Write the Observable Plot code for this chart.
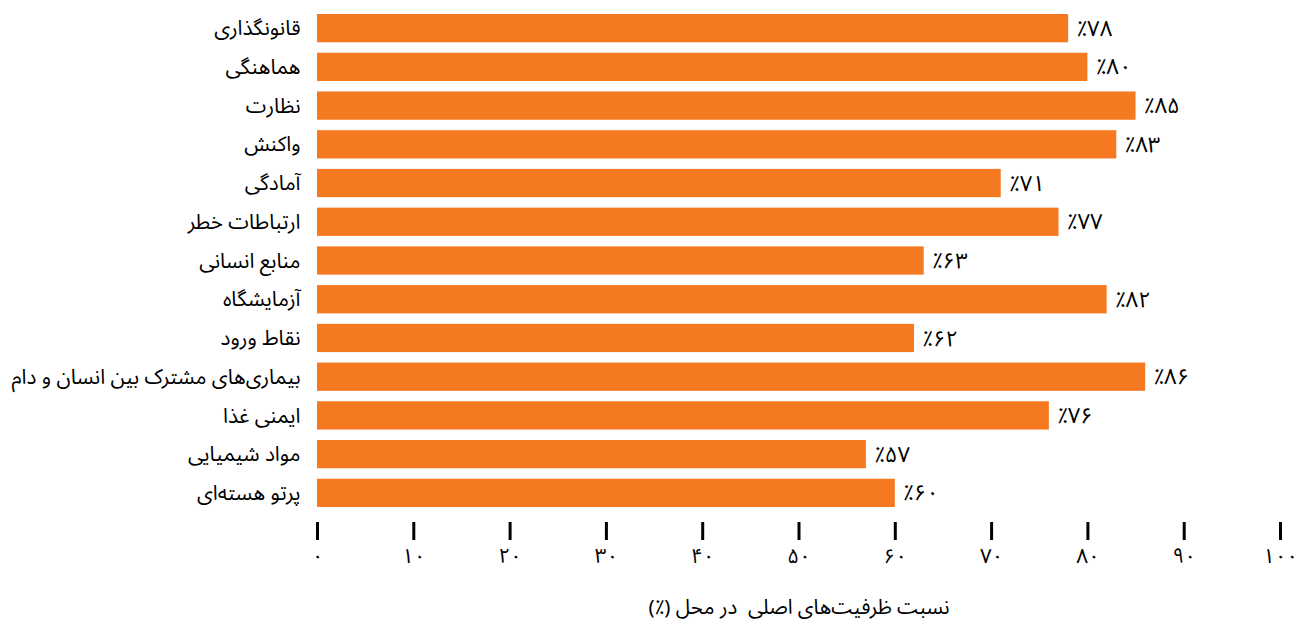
<!DOCTYPE html>
<html><head><meta charset="utf-8">
<script src="https://cdn.jsdelivr.net/npm/d3@7"></script>
<script src="https://cdn.jsdelivr.net/npm/@observablehq/plot@0.6"></script>
<style>body{margin:0;background:#fff}</style>
</head><body><div id="chart"></div>
<script>
const categories = ["قانونگذاری","هماهنگی","نظارت","واکنش","آمادگی","ارتباطات خطر","منابع انسانی","آزمایشگاه","نقاط ورود","بیماری‌های مشترک بین انسان و دام","ایمنی غذا","مواد شیمیایی","پرتو هسته‌ای"];
const values = [78,80,85,83,71,77,63,82,62,86,76,57,60];
const valueLabels = ["٪۷۸","٪۸۰","٪۸۵","٪۸۳","٪۷۱","٪۷۷","٪۶۳","٪۸۲","٪۶۲","٪۸۶","٪۷۶","٪۵۷","٪۶۰"];
const tickValues = [0,10,20,30,40,50,60,70,80,90,100];
const tickLabels = ["۰","۱۰","۲۰","۳۰","۴۰","۵۰","۶۰","۷۰","۸۰","۹۰","۱۰۰"];
const axisTitle = "\u202Bنسبت ظرفیت‌های اصلی  در محل (٪)\u202C";

const data = categories.map((c, i) => ({category: c, value: values[i], label: valueLabels[i]}));
const font = "'Noto Sans Arabic','Noto Naskh Arabic','DejaVu Sans',sans-serif";

const plot = Plot.plot({
  width: 1309, height: 628,
  marginTop: 0, marginLeft: 317, marginRight: 29, marginBottom: 106,
  style: {fontFamily: font, fontSize: "21px", color: "#000", background: "#fff"},
  x: {domain: [0, 100]},
  y: {domain: categories, range: [14, 507], paddingInner: 0.27, paddingOuter: 0, round: false},
  marks: [
    Plot.barX(data, {x: "value", y: "category", fill: "#F47920"}),
    Plot.text(data, {x: "value", y: "category", text: "label", textAnchor: "start", dx: 8, fontSize: 22, fill: "#000"}),
    Plot.axisY({tickSize: 0, tickPadding: 17, fontSize: 20.8, label: null}),
    Plot.axisX({ticks: tickValues, tickFormat: d => tickLabels[tickValues.indexOf(d)], tickSize: 18, strokeWidth: 3, tickPadding: 8, fontSize: 20.5, label: axisTitle, labelAnchor: "center", labelOffset: 91, labelArrow: "none"})
  ]
});
document.getElementById("chart").appendChild(plot);
</script>
</body></html>
